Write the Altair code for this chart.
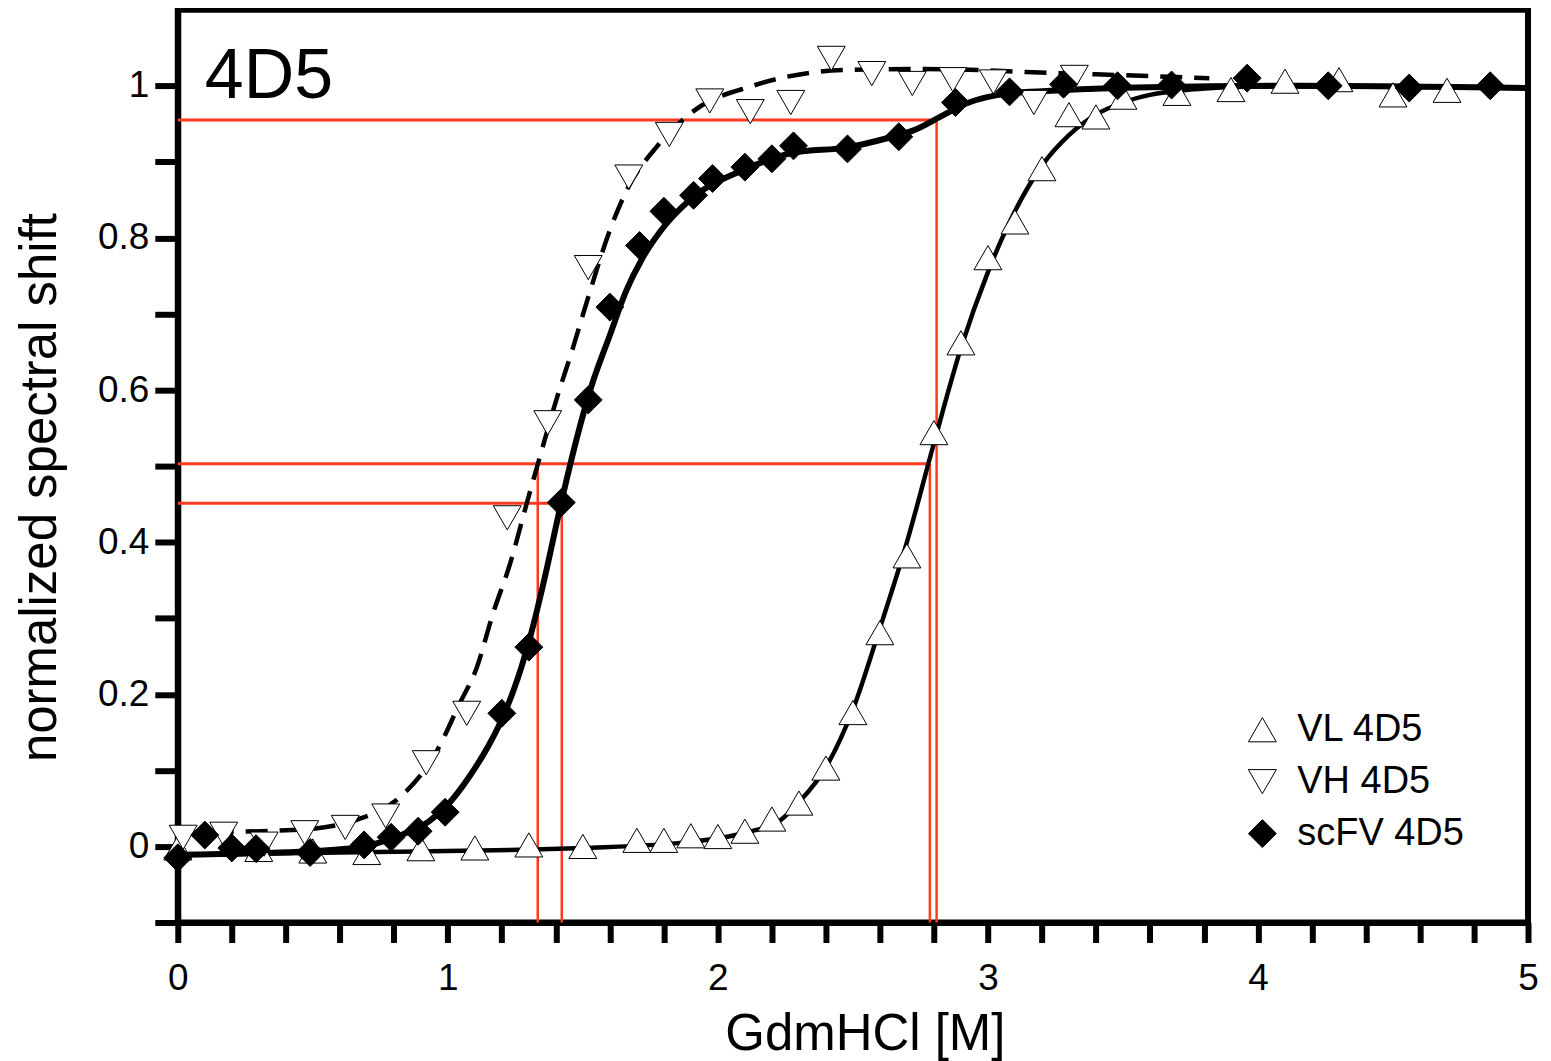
import altair as alt
import pandas as pd

# ---- measured points ----
vl_x = [0.0, 0.3, 0.5, 0.7, 0.9, 1.1, 1.3, 1.5, 1.7, 1.8, 1.9, 2.0, 2.1, 2.2, 2.3, 2.4,
        2.5, 2.6, 2.7, 2.8, 2.9, 3.0, 3.1, 3.2, 3.3, 3.4, 3.5, 3.7, 3.9, 4.1, 4.3, 4.5, 4.7]
vl_y = [-0.002, -0.004, -0.006, -0.008, -0.003, -0.002, 0.002, 0.0, 0.008, 0.008, 0.014,
        0.013, 0.02, 0.036, 0.057, 0.103, 0.176, 0.281, 0.382, 0.544, 0.662, 0.774, 0.821,
        0.891, 0.962, 0.959, 0.985, 0.99, 0.995, 1.006, 1.008, 0.988, 0.994]

vh_x = [0.02, 0.17, 0.32, 0.47, 0.62, 0.77, 0.92, 1.07, 1.22, 1.37, 1.52, 1.67, 1.82,
        1.97, 2.12, 2.27, 2.42, 2.57, 2.72, 2.87, 3.02, 3.17, 3.32]
vh_y = [0.012, 0.016, 0.003, 0.018, 0.025, 0.04, 0.11, 0.175, 0.432, 0.557, 0.761, 0.88,
        0.936, 0.98, 0.966, 0.978, 1.036, 1.016, 1.003, 1.008, 1.005, 0.978, 1.011]

sc_x = [0.0, 0.1, 0.2, 0.29, 0.49, 0.69, 0.79, 0.89, 0.99, 1.2, 1.3, 1.42, 1.52, 1.6, 1.71,
        1.8, 1.91, 1.98, 2.1, 2.2, 2.28, 2.48, 2.67, 2.88, 3.08, 3.28, 3.48, 3.68, 3.96,
        4.26, 4.56, 4.86]
sc_y = [-0.015, 0.015, -0.002, -0.003, -0.008, 0.002, 0.012, 0.02, 0.045, 0.175, 0.262,
        0.452, 0.587, 0.709, 0.79, 0.835, 0.856, 0.878, 0.893, 0.904, 0.921, 0.917, 0.933,
        0.978, 0.992, 1.002, 1.0, 1.001, 1.01, 1.0, 0.997, 1.0]

# ---- fitted curves ----
sc_fit_x = [0.0, 0.45, 0.67, 0.82, 0.93, 1.0, 1.08, 1.15, 1.21, 1.26, 1.31, 1.36, 1.42,
            1.48, 1.53, 1.6, 1.66, 1.72, 1.79, 1.9, 2.1, 2.28, 2.48, 2.626, 2.722,
            2.833, 2.922, 3.081, 3.267, 3.6, 4.156, 5.0]
sc_fit_y = [-0.011, -0.007, -0.001, 0.014, 0.033, 0.055, 0.092, 0.132, 0.175, 0.222, 0.282,
            0.355, 0.452, 0.54, 0.603, 0.672, 0.73, 0.773, 0.81, 0.851, 0.89, 0.912, 0.919,
            0.931, 0.941, 0.961, 0.977, 0.99, 0.994, 0.998, 1.0, 0.997]

vl_fit_x = [0.0, 0.8, 1.5, 1.9, 2.1, 2.23, 2.3, 2.4, 2.5, 2.6, 2.7, 2.8, 2.9, 3.0, 3.1,
            3.2, 3.3, 3.4, 3.5, 3.6, 3.75, 4.0, 5.0]
vl_fit_y = [-0.011, -0.007, -0.002, 0.006, 0.018, 0.034, 0.058, 0.104, 0.18, 0.287, 0.40,
            0.53, 0.655, 0.755, 0.835, 0.895, 0.935, 0.962, 0.978, 0.988, 0.995, 0.999, 0.998]

vh_fit_x = [0.0, 0.45, 0.67, 0.82, 0.96, 1.044, 1.107, 1.167, 1.23, 1.293, 1.34, 1.4, 1.463,
            1.519, 1.6, 1.663, 1.774, 1.907, 2.13, 2.34, 2.5, 2.74, 2.93, 3.14, 3.4, 3.82]
vh_fit_y = [0.018, 0.022, 0.036, 0.064, 0.126, 0.188, 0.235, 0.306, 0.371, 0.452, 0.511,
            0.585, 0.655, 0.721, 0.81, 0.863, 0.92, 0.966, 1.0, 1.017, 1.021, 1.022, 1.021,
            1.018, 1.015, 1.01]

# ---- red guide lines (midpoints) ----
h_y = [0.955, 0.503, 0.451]
h_x2 = [2.81, 2.785, 1.422]
v_x = [2.81, 2.785, 1.333, 1.422]
v_y2 = [0.955, 0.503, 0.503, 0.451]

series_names = ["VL 4D5", "VH 4D5", "scFV 4D5"]
x_ticks = [0.0, 0.2, 0.4, 0.6, 0.8, 1.0, 1.2, 1.4, 1.6, 1.8, 2.0, 2.2, 2.4, 2.6, 2.8, 3.0,
           3.2, 3.4, 3.6, 3.8, 4.0, 4.2, 4.4, 4.6, 4.8, 5.0]
y_ticks = [-0.1, 0.0, 0.1, 0.2, 0.3, 0.4, 0.5, 0.6, 0.7, 0.8, 0.9, 1.0]

FONT = "Liberation Sans"
RED = "#ff3b1f"

pts = pd.concat([
    pd.DataFrame({"x": vl_x, "y": vl_y, "series": series_names[0]}),
    pd.DataFrame({"x": vh_x, "y": vh_y, "series": series_names[1]}),
    pd.DataFrame({"x": sc_x, "y": sc_y, "series": series_names[2]}),
], ignore_index=True)

xscale = alt.Scale(domain=[0, 5], nice=False, zero=False)
yscale = alt.Scale(domain=[-0.1, 1.1], nice=False, zero=False)

xaxis = alt.Axis(values=x_ticks,
                 labelExpr="(round(datum.value*5) % 5 == 0) ? format(datum.value, 'd') : ''",
                 tickSize=20, tickWidth=6, domainWidth=6, tickColor="black", domainColor="black",
                 labelFontSize=37, labelFont=FONT, labelColor="black", labelPadding=18,
                 labelFlush=False, labelOverlap=False, labelBound=False, grid=False,
                 title="GdmHCl [M]", titleFont=FONT, titleFontSize=51, titleFontWeight="normal",
                 titleColor="black", titleX=688, titleY=127, titleBaseline="alphabetic",
                 titleAlign="center")
yaxis = alt.Axis(values=y_ticks,
                 labelExpr="(datum.value > -0.05 && round(datum.value*10) % 2 == 0) ? format(datum.value, '.1~f') : ''",
                 tickSize=23, tickWidth=6, domainWidth=6, tickColor="black", domainColor="black",
                 labelFontSize=37, labelFont=FONT, labelColor="black", labelPadding=6,
                 labelFlush=False, labelOverlap=False, labelBound=False, grid=False,
                 title="normalized spectral shift", titleFont=FONT, titleFontSize=51,
                 titleFontWeight="normal", titleColor="black", titleAngle=270,
                 titleX=-122, titleY=478, titleBaseline="alphabetic", titleAlign="center")

X = lambda f: alt.X(f, type="quantitative", scale=xscale, axis=xaxis)
Y = lambda f: alt.Y(f, type="quantitative", scale=yscale, axis=yaxis)

hlines = alt.Chart(pd.DataFrame({"y": h_y, "x2": h_x2, "x": [0.0] * len(h_y)})).mark_rule(
    color=RED, strokeWidth=3).encode(x=X("x"), x2="x2", y=Y("y"))
vlines = alt.Chart(pd.DataFrame({"x": v_x, "y2": v_y2, "y": [-0.1] * len(v_x)})).mark_rule(
    color=RED, strokeWidth=2.5).encode(x=X("x"), y=Y("y"), y2="y2")

vh_line = alt.Chart(pd.DataFrame({"x": vh_fit_x, "y": vh_fit_y})).mark_line(
    color="black", strokeWidth=4.5, strokeDash=[22, 12], interpolate="monotone").encode(x=X("x"), y=Y("y"))
vl_line = alt.Chart(pd.DataFrame({"x": vl_fit_x, "y": vl_fit_y})).mark_line(
    color="black", strokeWidth=4.5, interpolate="monotone").encode(x=X("x"), y=Y("y"))
sc_line = alt.Chart(pd.DataFrame({"x": sc_fit_x, "y": sc_fit_y})).mark_line(
    color="black", strokeWidth=6, interpolate="monotone").encode(x=X("x"), y=Y("y"))

leg = alt.Legend(title=None, orient="none", legendX=1067, legendY=702,
                 labelFont=FONT, labelFontSize=38, labelColor="black", labelOffset=16,
                 labelLimit=0, rowPadding=14, padding=0, symbolStrokeWidth=1)
points = alt.Chart(pts).mark_point(filled=True, strokeWidth=1, opacity=1).encode(
    x=X("x"), y=Y("y"),
    shape=alt.Shape("series:N", scale=alt.Scale(domain=series_names,
                    range=["triangle-up", "triangle-down", "diamond"]), legend=leg),
    fill=alt.Fill("series:N", scale=alt.Scale(domain=series_names,
                  range=["white", "white", "black"]), legend=leg),
    stroke=alt.Stroke("series:N", scale=alt.Scale(domain=series_names,
                      range=["black", "black", "black"]), legend=leg),
    size=alt.Size("series:N", scale=alt.Scale(domain=series_names, range=[780, 780, 1150]),
                  legend=leg),
)

label = alt.Chart(pd.DataFrame({"x": [0.1], "y": [0.984], "t": ["4D5"]})).mark_text(
    align="left", baseline="alphabetic", font=FONT, fontSize=70, color="black").encode(
    x=X("x"), y=Y("y"), text="t")

chart = alt.layer(hlines, vlines, vh_line, vl_line, sc_line, points, label).properties(
    width=1352, height=914,
    autosize=alt.AutoSizeParams(type="none"),
    padding={"left": 170, "top": 1, "right": 15, "bottom": 138},
).configure_view(stroke="black", strokeWidth=6)

chart.save("out.html", embed_options={"renderer": "svg", "actions": False})
